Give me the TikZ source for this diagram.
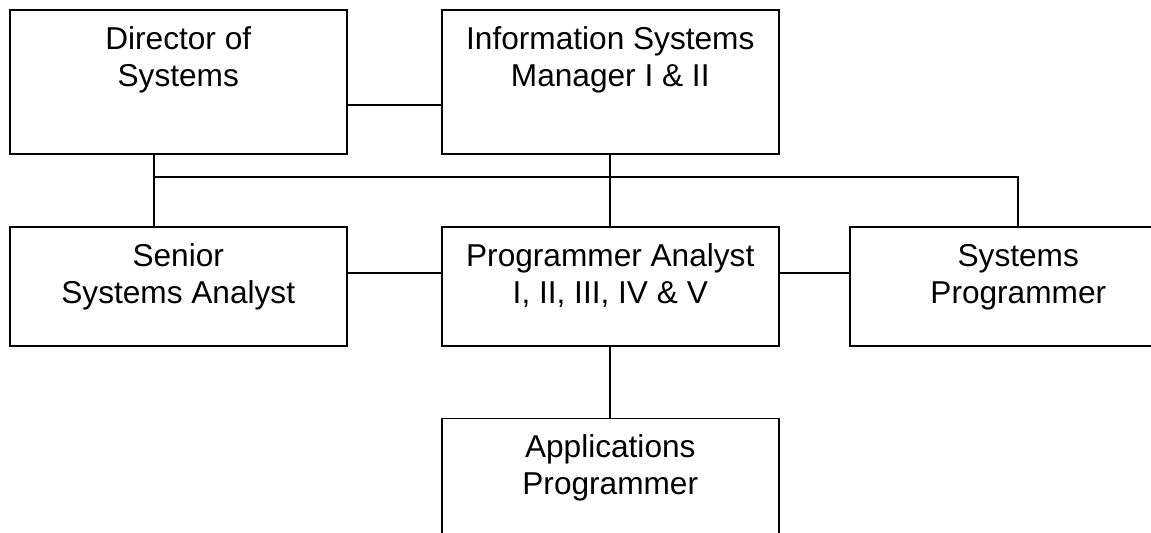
\documentclass[tikz,border=0pt]{standalone}
\usepackage{fontspec}
\setmainfont{Liberation Sans}
\usetikzlibrary{positioning}

\tikzset{
  post/.style={draw, line width=0.9pt, minimum width=6.74cm, inner sep=0pt, anchor=north west},
  title/.style={align=center, inner sep=0pt, font=\fontsize{18}{20.9}\selectfont},
  wire/.style={line width=0.9pt}
}

\begin{document}
\begin{tikzpicture}[x=0.02cm,y=-0.02cm]
    \clip (0,0) rectangle (1151,533);
    %%top_row
    \node[post, minimum height=2.87cm] (dir) at (9,9.5) {};
    \node[post, minimum height=2.87cm] (mgr) at (441,9.5) {};
    %%middle_row
    \node[post, minimum height=2.38cm] (sen) at (9,226) {};
    \node[post, minimum height=2.38cm] (pa) at (441,226) {};
    \node[post, minimum height=2.38cm] (sp) at (849,226) {};
    %%bottom_row
    \node[post, minimum height=2.87cm] (app) at (441,417.7) {};
    %%titles
    \node[title, below=8.1pt of dir.north] (dirtxt) {\strut Director of\\\strut Systems};
    \node[title, below=8.1pt of mgr.north] (mgrtxt) {\strut Information Systems\\\strut Manager I \& II};
    \node[title, below=8.1pt of sen.north] (sentxt) {\strut Senior\\\strut Systems Analyst};
    \node[title, below=8.1pt of pa.north] (patxt) {\strut Programmer Analyst\\\strut I, II, III, IV \& V};
    \node[title, below=8.1pt of sp.north] (sptxt) {\strut Systems\\\strut Programmer};
    \node[title, below=8.1pt of app.north] (apptxt) {\strut Applications\\\strut Programmer};
    %%connectors
    \coordinate (link1) at (0,105);
    \coordinate (link2) at (0,273);
    \coordinate (bus) at (154,177);
    \draw[wire] (dir.east |- link1) -- (mgr.west |- link1);
    \draw[wire] (dir.south -| bus) -- (bus) -- (bus -| sp.north) -- (sp.north);
    \draw[wire] (bus) -- (sen.north -| bus);
    \draw[wire] (mgr.south) -- (pa.north);
    \draw[wire] (sen.east |- link2) -- (pa.west |- link2);
    \draw[wire] (pa.east |- link2) -- (sp.west |- link2);
    \draw[wire] (pa.south) -- (app.north);
\end{tikzpicture}
\end{document}
